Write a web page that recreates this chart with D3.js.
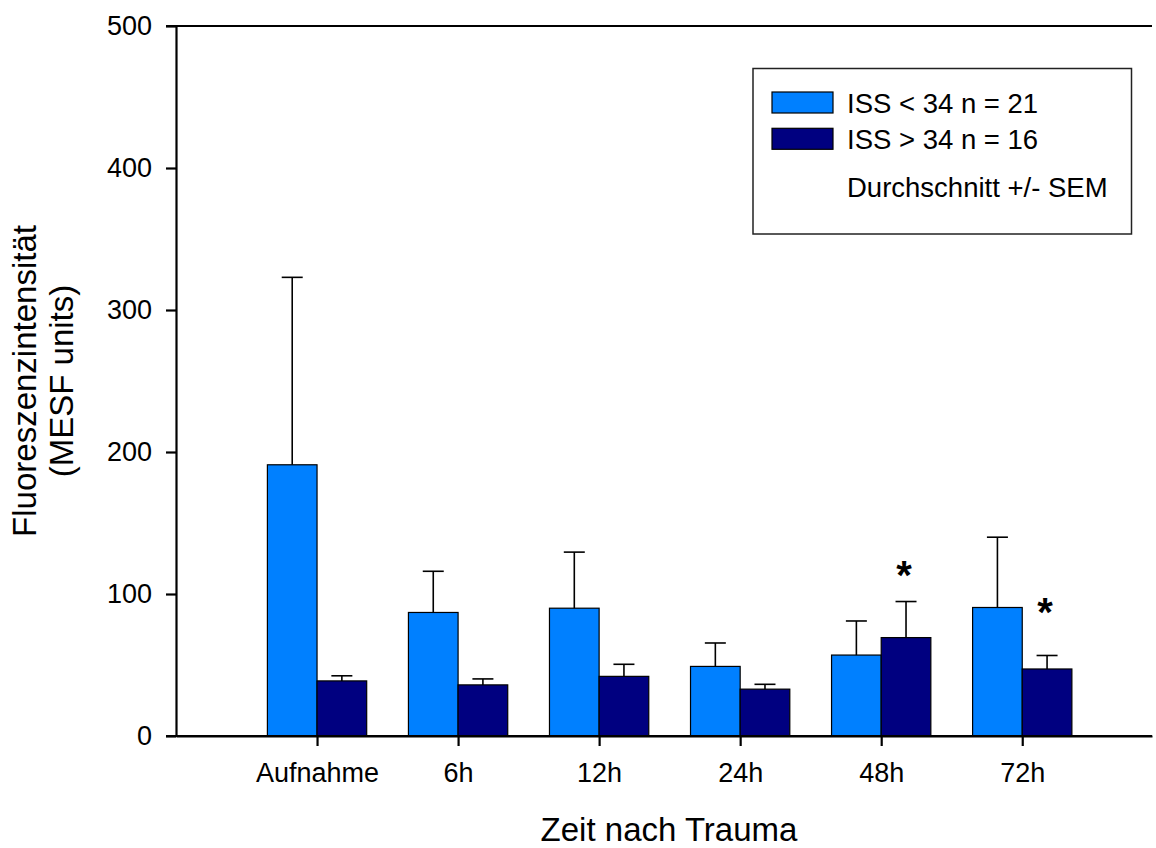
<!DOCTYPE html>
<html>
<head>
<meta charset="utf-8">
<script src="https://cdn.jsdelivr.net/npm/d3@7"></script>
<style>
  body { margin: 0; background: #fff; }
  svg { display: block; font-family: "Liberation Sans", Arial, sans-serif; }
</style>
</head>
<body>
<svg id="chart" width="1156" height="848"></svg>
<script>
// values
const categories = ['Aufnahme', '6h', '12h', '24h', '48h', '72h'];
const lowMean  = [191, 87, 90, 49, 57, 90.5];
const lowSem   = [132, 29, 39.5, 16.5, 24, 49.5];
const highMean = [38.8, 36, 42, 33, 69.3, 47.2];
const highSem  = [3.6, 4.2, 8.5, 3.4, 25.4, 9.5];
const yTicks = [0, 100, 200, 300, 400, 500];
const starIndex = [4, 5];
const starSeries = [1, 1];
const starValue = [119, 93];
const seriesNames = ['ISS < 34 n = 21', 'ISS > 34 n = 16'];
const seriesColors = ['#0080ff', '#000080'];

let svg = d3.select('#chart');

let x = d3.scaleLinear()
  .domain([0, 6.92])
  .range([176, 1152]);

let y = d3.scaleLinear()
  .domain([0, 500])
  .range([736, 26]);

let barW = 0.352; // in category units

let series = [
  {mean: lowMean, sem: lowSem, off: -barW / 2},
  {mean: highMean, sem: highSem, off: barW / 2}
];

// bars + error bars
series.forEach(function(s, si) {
  let g = svg.append('g');
  s.mean.forEach(function(v, i) {
    let cx = i + 1 + s.off;
    g.append('rect')
      .attr('x', x(cx - barW / 2))
      .attr('y', y(v))
      .attr('width', x(cx + barW / 2) - x(cx - barW / 2))
      .attr('height', y(0) - y(v))
      .attr('fill', seriesColors[si])
      .attr('stroke', '#000')
      .attr('stroke-width', 1.2);
    let top = v + s.sem[i];
    g.append('line')
      .attr('x1', x(cx)).attr('x2', x(cx))
      .attr('y1', y(v)).attr('y2', y(top))
      .attr('stroke', '#000').attr('stroke-width', 1.6);
    g.append('line')
      .attr('x1', x(cx) - 10.5).attr('x2', x(cx) + 10.5)
      .attr('y1', y(top)).attr('y2', y(top))
      .attr('stroke', '#000').attr('stroke-width', 1.6);
  });
});

// significance stars
starIndex.forEach(function(ci, k) {
  svg.append('text')
    .attr('x', x(ci + 1 + series[starSeries[k]].off) - 2)
    .attr('y', y(starValue[k]))
    .attr('dy', '0.55em')
    .attr('text-anchor', 'middle')
    .attr('font-size', 40)
    .attr('font-weight', 'bold')
    .text('*');
});

// axes
let yAxis = d3.axisLeft(y)
  .tickValues(yTicks)
  .tickSize(10)
  .tickSizeOuter(0)
  .tickPadding(14);

let xAxis = d3.axisBottom(x)
  .tickValues(categories.map((c, i) => i + 1))
  .tickFormat((d, i) => categories[i])
  .tickSize(10)
  .tickSizeOuter(0)
  .tickPadding(17);

let gy = svg.append('g')
  .attr('transform', 'translate(176,0)')
  .call(yAxis);

let gx = svg.append('g')
  .attr('transform', 'translate(0,736)')
  .call(xAxis);

[gx, gy].forEach(function(g) {
  g.selectAll('path, line').attr('stroke', '#000').attr('stroke-width', 2.2);
  g.selectAll('text').attr('font-size', 27).attr('fill', '#000')
    .attr('font-family', '"Liberation Sans", Arial, sans-serif');
});

// bottom and top frame lines, starting at the tick ends
svg.append('line')
  .attr('x1', 166).attr('x2', x.range()[1])
  .attr('y1', y(0)).attr('y2', y(0))
  .attr('stroke', '#000').attr('stroke-width', 2.2);
svg.append('line')
  .attr('x1', 166).attr('x2', x.range()[1])
  .attr('y1', y(500)).attr('y2', y(500))
  .attr('stroke', '#000').attr('stroke-width', 2.2);

// axis titles
svg.append('text')
  .attr('x', 669).attr('y', 841)
  .attr('text-anchor', 'middle')
  .attr('font-size', 33)
  .text('Zeit nach Trauma');

let yt = svg.append('text')
  .attr('transform', 'translate(36,381) rotate(-90)')
  .attr('text-anchor', 'middle')
  .attr('font-size', 33);
yt.append('tspan').attr('x', 0).attr('y', 0).text('Fluoreszenzintensität');
yt.append('tspan').attr('x', 0).attr('y', 37).text('(MESF units)');

// legend
let lg = svg.append('g');
lg.append('rect')
  .attr('x', 753).attr('y', 68.5)
  .attr('width', 378.5).attr('height', 165.5)
  .attr('fill', '#fff')
  .attr('stroke', '#222')
  .attr('stroke-width', 1.5);
seriesNames.forEach(function(name, i) {
  lg.append('rect')
    .attr('x', 772).attr('y', 92 + i * 36.3)
    .attr('width', 61).attr('height', 21)
    .attr('fill', seriesColors[i])
    .attr('stroke', '#000')
    .attr('stroke-width', 1.2);
  lg.append('text')
    .attr('x', 847).attr('y', 112.7 + i * 36)
    .attr('font-size', 27.5)
    .text(name);
});
lg.append('text')
  .attr('x', 847).attr('y', 197)
  .attr('font-size', 27.5)
  .text('Durchschnitt +/- SEM');
</script>
</body>
</html>
